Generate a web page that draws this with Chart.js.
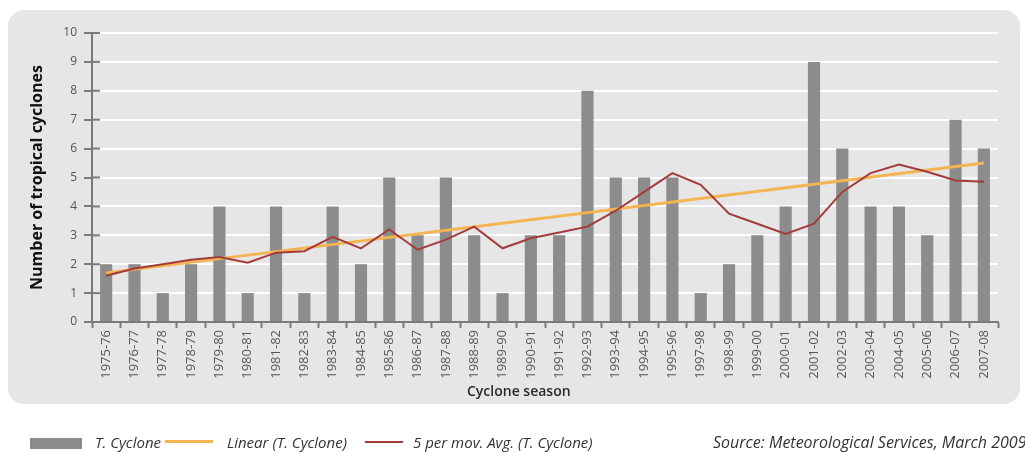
<!DOCTYPE html>
<html>
<head>
<meta charset="utf-8">
<script src="https://cdn.jsdelivr.net/npm/chart.js@4.4.1/dist/chart.umd.min.js"></script>
<style>
  body { margin: 0; background: #fff; font-family: "Open Sans", sans-serif; }
  #wrap { position: relative; width: 1025px; height: 452px; overflow: hidden; }
  #panel { position: absolute; left: 8px; top: 10px; width: 1012px; height: 394px;
           border-radius: 16px; background: #e6e6e6; }
  canvas { position: absolute; left: 0; top: 0; }
  .xtitle { position: absolute; left: 467px; top: 381px; font-size: 14px; font-weight: 600; color: #2a2a2a; }
  .leg { position: absolute; top: 432px; font-size: 15px; font-style: italic; color: #333; white-space: nowrap; }
  .src { font-size: 16px; top: 431px; }
  .sw { position: absolute; }
</style>
</head>
<body>
<div id="wrap">
  <div id="panel"></div>
  <canvas id="chart" width="1025" height="452"></canvas>
  <div class="xtitle">Cyclone season</div>
  <div class="sw" style="left:30px;top:438px;width:52px;height:11px;background:#8c8c8c"></div>
  <div class="leg" style="left:95px">T. Cyclone</div>
  <div class="sw" style="left:165px;top:440px;width:48px;height:3px;background:#f3b451"></div>
  <div class="leg" style="left:227px">Linear (T. Cyclone)</div>
  <div class="sw" style="left:365px;top:441px;width:38px;height:2px;background:#a33b3d"></div>
  <div class="leg" style="left:413px">5 per mov. Avg. (T. Cyclone)</div>
  <div class="leg src" style="left:713px">Source: Meteorological Services, March 2009</div>
</div>
<script>
// cyclone seasons as shown (1996-97 is not on the chart)
var seasons = ["1975-76", "1976-77", "1977-78", "1978-79", "1979-80", "1980-81", "1981-82", "1982-83",
  "1983-84", "1984-85", "1985-86", "1986-87", "1987-88", "1988-89", "1989-90", "1990-91", "1991-92",
  "1992-93", "1993-94", "1994-95", "1995-96", "1997-98", "1998-99", "1999-00", "2000-01", "2001-02",
  "2002-03", "2003-04", "2004-05", "2005-06", "2006-07", "2007-08"];

var cyclones = [2, 2, 1, 2, 4, 1, 4, 1, 4, 2, 5, 3, 5, 3, 1, 3, 3, 8, 5, 5, 5, 1, 2, 3, 4, 9, 6, 4, 4, 3, 7, 6];

var movAvg = [1.6, 1.85, 2.0, 2.15, 2.25, 2.05, 2.4, 2.45, 2.95, 2.55, 3.2, 2.5, 2.85, 3.3, 2.55, 2.9,
  3.1, 3.3, 3.85, 4.5, 5.15, 4.75, 3.75, 3.4, 3.05, 3.4, 4.5, 5.15, 5.45, 5.2, 4.9, 4.85];

// trend line: only the two ends are read, the line joins them
var trend = seasons.map(function () { return null; });
trend[0] = 1.7;
trend[seasons.length - 1] = 5.5;

var axisGrey = "#7a7a7a";

// short tick marks that cross the y axis
var crossTicks = {
  id: "crossTicks",
  afterDraw: function (chart) {
    var y = chart.scales.y, ctx = chart.ctx, x0 = chart.chartArea.left;
    ctx.save();
    ctx.strokeStyle = axisGrey;
    ctx.lineWidth = 2;
    y.ticks.forEach(function (t, i) {
      if (t.value === 0) return;
      var py = y.getPixelForTick(i);
      ctx.beginPath();
      ctx.moveTo(x0, py);
      ctx.lineTo(x0 + 8, py);
      ctx.stroke();
    });
    ctx.restore();
  }
};

new Chart(document.getElementById("chart"), {
  type: "bar",
  data: {
    labels: seasons,
    datasets: [{
      type: "line",
      label: "5 per mov. Avg. (T. Cyclone)",
      data: movAvg,
      borderColor: "#a33b3d",
      borderWidth: 2,
      pointRadius: 0,
      tension: 0,
      fill: false,
      order: 1
    }, {
      type: "line",
      label: "Linear (T. Cyclone)",
      data: trend,
      borderColor: "#f3b451",
      borderWidth: 3,
      pointRadius: 0,
      spanGaps: true,
      fill: false,
      order: 2
    }, {
      label: "T. Cyclone",
      data: cyclones,
      backgroundColor: "#8c8c8c",
      categoryPercentage: 1,
      barPercentage: 0.43,
      order: 3
    }]
  },
  options: {
    responsive: false,
    animation: false,
    layout: { padding: { left: 0, top: 33, right: 27, bottom: 0 } },
    plugins: {
      legend: { display: false },
      tooltip: { enabled: false }
    },
    scales: {
      x: {
        afterFit: function (s) { s.height = 130; },
        border: { color: axisGrey, width: 2 },
        grid: { offset: true, drawOnChartArea: false, tickLength: 6, tickColor: axisGrey, tickWidth: 2 },
        ticks: {
          minRotation: 90, maxRotation: 90, autoSkip: false, padding: 2,
          color: "#555", font: { family: "Open Sans", size: 13 }
        }
      },
      y: {
        min: 0, max: 10,
        afterFit: function (s) { s.width = 92; },
        border: { color: axisGrey, width: 2 },
        grid: { color: "#ffffff", lineWidth: 2, tickLength: 8, tickColor: axisGrey, tickWidth: 2 },
        ticks: { stepSize: 1, padding: 7, color: "#555", font: { family: "Open Sans", size: 12 } },
        title: {
          display: true,
          text: "Number of tropical cyclones",
          color: "#111",
          padding: { top: 28, bottom: 0 },
          font: { family: "Open Sans", size: 16, weight: "bold" }
        }
      }
    }
  },
  plugins: [crossTicks]
});
</script>
</body>
</html>
